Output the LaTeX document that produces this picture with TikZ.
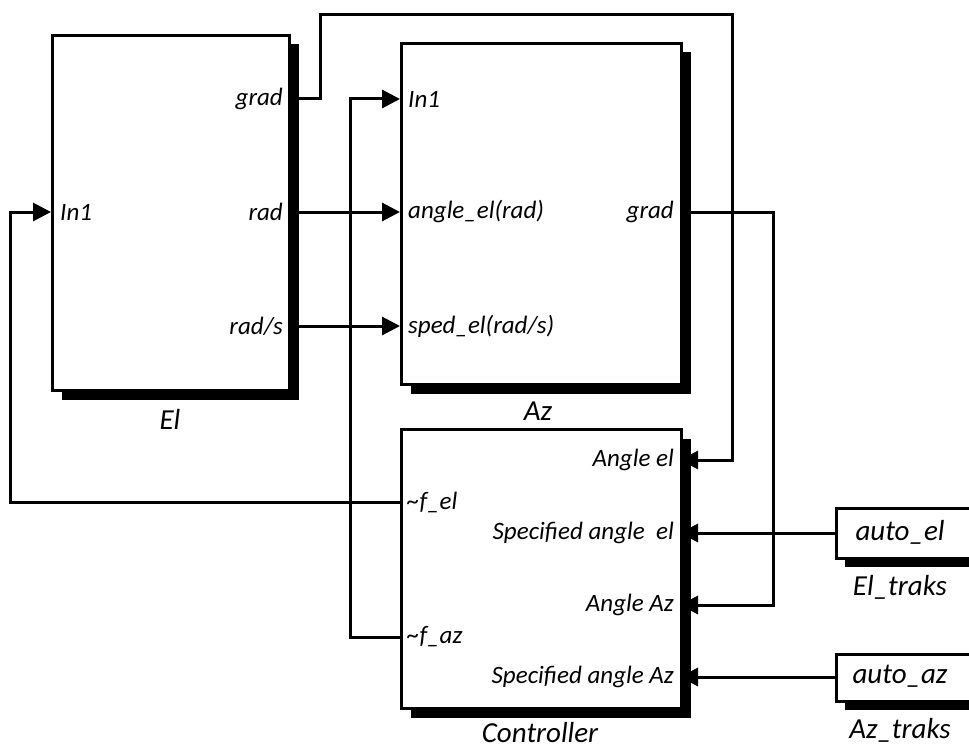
\documentclass[tikz,border=0pt]{standalone}
\usepackage{fontspec}
\setmainfont{Carlito}
\usetikzlibrary{positioning,shadows,backgrounds,arrows.meta}

\begin{document}
\begin{tikzpicture}[
    x=1pt, y=-1pt,
    every node/.style={font=\fontsize{25}{29}\selectfont\itshape, inner sep=0pt},
    block/.style={
        draw,
        line width=3pt,
        fill=white,
        anchor=north west,
        drop shadow={shadow xshift=9pt, shadow yshift=-9pt, fill=black, opacity=1}
    },
    portlabel/.style={font=\fontsize{25}{29}\selectfont\itshape},
    blocklabel/.style={font=\fontsize{29}{34}\selectfont\itshape},
    arr/.style={-{Triangle[length=18pt, width=18pt]}, line width=3pt}
]
    \useasboundingbox (0,0) rectangle (969,749);

    % El
    \node[block, minimum width=237pt, minimum height=355pt] (el) at (51,34) {};
    \node[blocklabel] (el-name) at (170,419) {El};
    \coordinate (el-in1) at (51,212);
    \coordinate (el-grad) at (288,99);
    \coordinate (el-rad) at (288,212);
    \coordinate (el-rads) at (288,326);
    \node[portlabel, anchor=west] (el-in1-l) at (60,212) {In1};
    \node[portlabel, anchor=east] (el-grad-l) at (283,99) {grad};
    \node[portlabel, anchor=east] (el-rad-l) at (283,212) {rad};
    \node[portlabel, anchor=east] (el-rads-l) at (283,326) {rad/s};

    % Az
    \node[block, minimum width=280pt, minimum height=341pt] (az) at (400,42) {};
    \node[blocklabel] (az-name) at (538,411) {Az};
    \coordinate (az-in1) at (400,99);
    \coordinate (az-ang) at (400,212);
    \coordinate (az-sped) at (400,326);
    \coordinate (az-grad) at (680,212);
    \node[portlabel, anchor=west] (az-in1-l) at (408,99) {In1};
    \node[portlabel, anchor=west] (az-ang-l) at (408,212) {angle\_el(rad)};
    \node[portlabel, anchor=west] (az-sped-l) at (408,326) {sped\_el(rad/s)};
    \node[portlabel, anchor=east] (az-grad-l) at (674,212) {grad};

    % Controller
    \node[block, minimum width=280pt, minimum height=279pt] (ctrl) at (400,428) {};
    \node[blocklabel] (ctrl-name) at (540,733) {Controller};
    \coordinate (ctrl-fel) at (400,502);
    \coordinate (ctrl-faz) at (400,637);
    \coordinate (ctrl-angel) at (680,460);
    \coordinate (ctrl-specel) at (680,533);
    \coordinate (ctrl-angaz) at (680,605);
    \coordinate (ctrl-specaz) at (680,677);
    \node[portlabel, anchor=west] (ctrl-fel-l) at (407,502) {\textasciitilde f\_el};
    \node[portlabel, anchor=west] (ctrl-faz-l) at (407,637) {\textasciitilde f\_az};
    \node[portlabel, anchor=east] (ctrl-angel-l) at (674,460) {Angle el};
    \node[portlabel, anchor=east] (ctrl-specel-l) at (674,533) {Specified angle\ \ el};
    \node[portlabel, anchor=east] (ctrl-angaz-l) at (674,605) {Angle Az};
    \node[portlabel, anchor=east] (ctrl-specaz-l) at (674,677) {Specified angle Az};

    % Sources
    \node[block, line width=2.5pt, minimum width=140pt, minimum height=50pt] (autoel) at (835,507) {};
    \node[blocklabel] (autoel-val) at (900,532) {auto\_el};
    \node[blocklabel] (autoel-name) at (900,587) {El\_traks};
    \node[block, line width=2.5pt, minimum width=140pt, minimum height=47pt] (autoaz) at (835,653) {};
    \node[blocklabel] (autoaz-val) at (900,676) {auto\_az};
    \node[blocklabel] (autoaz-name) at (900,730) {Az\_traks};

    % Lines
    \begin{scope}[on background layer]
        \draw[arr] (el-grad) -| (320,15) -| (732,460) -- (ctrl-angel);
        \draw[arr] (el-rad) -- (az-ang);
        \draw[arr] (el-rads) -- (az-sped);
        \draw[arr] (ctrl-fel) -| (10,212) -- (el-in1);
        \draw[arr] (ctrl-faz) -| (350,99) -- (az-in1);
        \draw[arr] (az-grad) -| (773,605) -- (ctrl-angaz);
        \draw[arr] (autoel.west |- ctrl-specel) -- (ctrl-specel);
        \draw[arr] (autoaz.west |- ctrl-specaz) -- (ctrl-specaz);
    \end{scope}

\end{tikzpicture}
\end{document}
